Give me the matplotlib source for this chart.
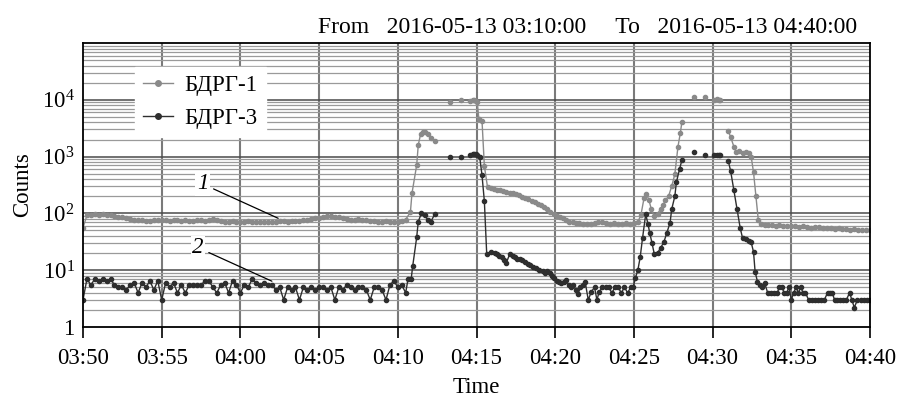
import numpy as np
import matplotlib
matplotlib.use("Agg")
import matplotlib.pyplot as plt
from matplotlib.ticker import FixedLocator, NullFormatter

plt.rcParams['font.family'] = ['Liberation Serif', 'DejaVu Serif']
plt.rcParams['mathtext.fontset'] = 'custom'
plt.rcParams['mathtext.rm'] = 'Liberation Serif'
plt.rcParams['mathtext.it'] = 'Liberation Serif:italic'

nan = np.nan

# ---------------- data (time in minutes after 03:50) ----------------
x_tick_labels = ["03:50", "03:55", "04:00", "04:05", "04:10",
                 "04:15", "04:20", "04:25", "04:30", "04:35", "04:40"]
y_tick_values = [1, 10, 100, 1000, 10000]
y_tick_labels = ["1", r"$\mathdefault{10^{1}}$", r"$\mathdefault{10^{2}}$",
                 r"$\mathdefault{10^{3}}$", r"$\mathdefault{10^{4}}$"]
series_names = ["БДРГ-1", "БДРГ-3"]

# quiet interval 03:50 - 04:10:30, one reading every 15 s
base_t = np.arange(0, 20.51, 0.25)
bdrg1_base = [56, 92, 95, 98, 94, 97, 92, 95, 90, 88, 85, 84, 80, 78, 76, 75,
              73, 74, 76, 75, 77, 76, 74, 75, 76, 74, 75, 73, 74, 76, 75, 74,
              77, 79, 76, 74, 72, 70, 73, 71, 72, 70, 73, 71, 72, 70, 72, 71,
              70, 72, 74, 73, 72, 73, 74, 73, 75, 77, 79, 82, 84, 86, 89, 91,
              88, 85, 82, 80, 78, 77, 79, 76, 75, 74, 73, 72, 71, 73, 70, 72,
              71, 74, 78]
bdrg3_base = [3, 7, 5.5, 7, 6.5, 7, 6.5, 7, 5.5, 5, 5, 4.5, 5.5, 6, 4, 6,
              5, 6.5, 4.5, 6.5, 3, 6, 5, 6, 4, 5.5, 4, 5.5, 5.5, 5.5, 5.5, 6.5,
              6.5, 5, 4, 5.5, 6, 4, 6.5, 5.5, 4, 5.5, 5, 7, 6, 5.5, 6, 5.5,
              5.5, 4.5, 5, 3, 5, 4.5, 5, 3, 5, 4.5, 5, 4.5, 5, 5, 4.5, 5,
              3, 5, 4.5, 5.5, 5, 4.5, 5, 5, 4.5, 3, 5, 5, 4.5, 3, 5.5, 6.5,
              5, 5.5, 4]

# active interval 04:10:30 - 04:40 (nan = data gap)
bdrg1_t = [20.8, 20.9, 21.2, 21.3, 21.45, 21.6, 21.75, 21.9, 22.1, 22.35, 22.8,
           23.3, 23.6, 24.0, 24.3, 24.6, 24.75, 24.85, 24.95, 25.05, 25.15, 25.35,
           25.5, 25.7, 25.9, 26.1, 26.3, 26.5, 26.7, 26.9, 27.1, 27.3, 27.5, 27.7,
           27.9, 28.1, 28.3, 28.5, 28.7, 28.9, 29.1, 29.3, 29.5, 29.7, 29.9, 30.1,
           30.3, 30.5, 30.7, 30.9, 31.1, 31.3, 31.5, 31.75, 32.0, 32.25, 32.5,
           32.75, 33.0, 33.25, 33.5, 33.75, 34.0, 34.25, 34.5, 34.75, 35.0, 35.25,
           35.45, 35.65, 35.8, 35.95, 36.1, 36.3, 36.5, 36.7, 36.85, 37.0, 37.2,
           37.4, 37.6, 37.8, 37.95, 38.05, 38.4, 38.8, 39.1, 39.5, 39.8, 40.1,
           40.25, 40.4, 40.5, 40.75, 41.0, 41.15, 41.35, 41.5, 41.7, 41.9, 42.1,
           42.3, 42.45, 42.6, 42.75, 42.9, 43.1, 43.3, 43.5, 43.75, 44.0, 44.25,
           44.5, 44.75, 45.0, 45.25, 45.5, 45.75, 46.0, 46.25, 46.5, 46.75, 47.0,
           47.25, 47.5, 47.75, 48.0, 48.25, 48.5, 48.75, 49.0, 49.25, 49.5, 49.75,
           50.0]
bdrg1_v = [105, 225, 710, 1600, 2500, 2750, 2700, 2500, 2100, 1900, nan,
           9100, nan, 10000, nan, 9600, 9800, 10000, 9500, 9000, 4600, 4300,
           680, 290, 280, 270, 262, 255, 248, 240, 232, 225, 216, 208,
           198, 190, 178, 165, 156, 148, 140, 130, 118, 105, 96, 90,
           86, 82, 75, 72, 70, 68, 67, 66, 65, 66, 67,
           70, 72, 69, 66, 67, 65, 66, 67, 66, 68, 70,
           95, 190, 217, 175, 120, 89, 98, 120, 140, 170, 200,
           300, 490, 1500, 2600, 4100, nan, 11000, nan, 11000, nan, 10000,
           10200, 9900, 10000, nan, 2800, 2200, 1500, 1200, 1250, 1180, 1200,
           1150, 1000, 530, 200, 78, 64, 63, 62, 63, 61, 62,
           60, 61, 59, 60, 58, 59, 57, 56, 58, 57, 55,
           56, 55, 54, 55, 53, 54, 52, 53, 52, 51, 52,
           51]

bdrg3_t = [20.65, 20.85, 20.95, 21.2, 21.3, 21.5, 21.7, 21.9, 22.1, 22.35, 22.8,
           23.3, 23.6, 24.0, 24.3, 24.6, 24.75, 24.85, 24.95, 25.05, 25.2, 25.35,
           25.5, 25.65, 25.95, 26.15, 26.3, 26.45, 26.6, 26.75, 26.9, 27.1, 27.3,
           27.45, 27.6, 27.75, 27.9, 28.1, 28.25, 28.4, 28.6, 28.8, 29.0, 29.2,
           29.35, 29.5, 29.65, 29.8, 29.95, 30.1, 30.25, 30.4, 30.55, 30.7, 30.85,
           31.0, 31.15, 31.3, 31.45, 31.6, 31.75, 31.9, 32.1, 32.3, 32.5, 32.65,
           32.8, 33.0, 33.2, 33.4, 33.6, 33.8, 34.0, 34.2, 34.4, 34.6, 34.8,
           34.95, 35.1, 35.25, 35.4, 35.55, 35.75, 35.9, 36.0, 36.15, 36.3, 36.5,
           36.7, 36.9, 37.1, 37.3, 37.4, 37.6, 37.7, 37.9, 38.05, 38.4, 38.8,
           39.1, 39.5, 39.8, 40.1, 40.25, 40.4, 40.5, 40.75, 41.0, 41.15, 41.35,
           41.55, 41.75, 41.9, 42.1, 42.3, 42.45, 42.6, 42.7, 42.85, 43.0, 43.15,
           43.3, 43.5, 43.7, 43.9, 44.1, 44.25, 44.4, 44.55, 44.7, 44.85, 45.0,
           45.15, 45.3, 45.45, 45.6, 45.75, 45.9, 46.1, 46.3, 46.5, 46.7, 46.9,
           47.1, 47.3, 47.45, 47.6, 47.75, 47.9, 48.1, 48.3, 48.5, 48.7, 48.85,
           49.0, 49.2, 49.4, 49.6, 49.8, 50.0]
bdrg3_v = [7, 7, 12, 38, 72, 100, 92, 78, 72, 97, nan,
           980, nan, 980, nan, 1080, 1100, 1100, 1090, 1050, 1000, 470,
           163, 19, 20.5, 20, 19, 18, 17, 15, 13.5, 19, 18,
           17, 16, 15.5, 15, 14, 13, 12.5, 11.5, 11, 10, 9.5,
           9, 9.5, 9, 8, 7.4, 6.5, 6.3, 6, 6.3, 6.8, 5.5,
           5, 5.5, 4.5, 3.8, 5, 5.5, 6.3, 3, 4.2, 5, 3,
           4.2, 5, 5, 5, 4, 5, 5, 4, 5, 4, 5,
           5, 7.4, 10, 17, 37, 97, 64, 46, 30, 19, 20,
           25, 31, 46, 69, 118, 200, 355, 600, 870, nan, 1200,
           nan, 1070, nan, 1070, 1080, 1060, 1070, nan, 830, 550, 255,
           118, 56, 37, 35, 33, 31, 21, 9.4, 6.3, 5.5, 5,
           6, 4, 4, 4, 4, 5, 5, 4, 4, 5, 3,
           4, 5, 4, 5, 4, 4, 3, 3, 3, 3, 3,
           3, 4, 4, 4, 3, 3, 3, 3, 3, 4, 3,
           2.2, 3, 3, 3, 3, 3]

t1 = np.concatenate([base_t, bdrg1_t])
v1 = np.concatenate([bdrg1_base, bdrg1_v])
t3 = np.concatenate([base_t, bdrg3_t])
v3 = np.concatenate([bdrg3_base, bdrg3_v])

# ---------------- figure ----------------
fig = plt.figure(figsize=(8.99, 3.99), dpi=100)
ax = fig.add_axes([83 / 899, 1 - 327 / 399, 787 / 899, 284 / 399])

ax.set_yscale('log')
ax.set_xlim(0, 50)
ax.set_ylim(1, 1e5)

gray_c = '#8a8a8a'
dark_c = '#2e2e2e'
l1, = ax.plot(t1, v1, '-o', color=gray_c, lw=1.0, ms=3.0, mec=gray_c, mfc=gray_c,
              label=series_names[0], zorder=3)
l3, = ax.plot(t3, v3, '-o', color=dark_c, lw=1.0, ms=3.0, mec=dark_c, mfc=dark_c,
              label=series_names[1], zorder=4)

# ticks
xt = np.arange(0, 51, 5)
ax.set_xticks(xt)
ax.set_xticklabels(x_tick_labels, fontsize=16.5)
ax.set_yticks(y_tick_values)
ax.set_yticklabels(y_tick_labels, fontsize=16.5)
minor_vals = [m * 10 ** d for d in range(0, 5) for m in range(2, 10)]
ax.yaxis.set_minor_locator(FixedLocator(minor_vals))
ax.yaxis.set_minor_formatter(NullFormatter())
ax.tick_params(axis='x', direction='out', length=8, width=1.2, pad=7)
ax.tick_params(axis='y', which='both', length=0, pad=6)

# grid
for xv in xt[1:-1]:
    ax.axvline(xv, color='#7a7a7a', lw=1.5, zorder=1)
for yv in y_tick_values[1:]:
    ax.axhline(yv, color='#4a4a4a', lw=1.1, zorder=1)
for yv in minor_vals:
    ax.axhline(yv, color='#9a9a9a', lw=0.9, zorder=1)

for s in ax.spines.values():
    s.set_linewidth(1.3)
    s.set_color('black')
    s.set_zorder(5)

ax.set_xlabel("Time", fontsize=16.5, labelpad=6)
ax.set_ylabel("Counts", fontsize=16.5, labelpad=6)
fig.text(857 / 899, 1 - 33 / 399,
         "From   2016-05-13 03:10:00     To   2016-05-13 04:40:00",
         ha='right', va='baseline', fontsize=17)

leg = ax.legend(handles=[l1, l3], loc='upper left', bbox_to_anchor=(0.052, 0.955),
                fontsize=16.5, frameon=True, fancybox=False, framealpha=1,
                edgecolor='white', facecolor='white', handlelength=1.3,
                handletextpad=0.5, borderpad=0.35, labelspacing=0.5)
leg.set_zorder(6)
for h in leg.legend_handles:
    h.set_markersize(4)

# curve annotations
ax.annotate("1", xy=(12.4, 82), xytext=(7.6, 330), fontsize=16.5, style='italic',
            ha='center', va='center', zorder=7,
            bbox=dict(facecolor='white', edgecolor='none', pad=1),
            arrowprops=dict(arrowstyle='-', color='black', lw=0.9,
                            shrinkA=3, shrinkB=0))
ax.annotate("2", xy=(12.0, 6.4), xytext=(7.3, 25), fontsize=16.5, style='italic',
            ha='center', va='center', zorder=7,
            bbox=dict(facecolor='white', edgecolor='none', pad=1),
            arrowprops=dict(arrowstyle='-', color='black', lw=0.9,
                            shrinkA=3, shrinkB=0))

fig.savefig("out.png", dpi=100)
